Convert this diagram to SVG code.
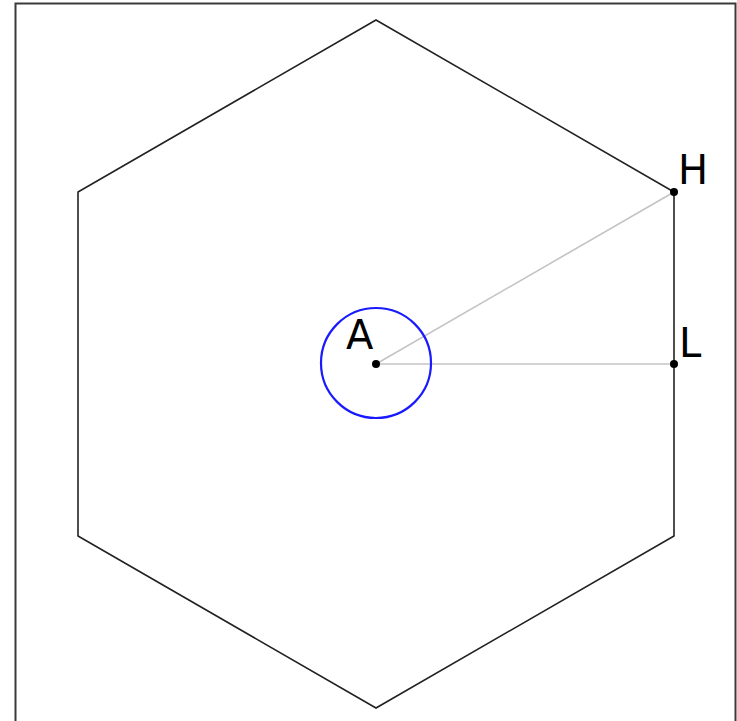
<svg xmlns="http://www.w3.org/2000/svg" width="737" height="721" viewBox="0 0 737 721">
<style>
.lbl{font-family:"DejaVu Sans",sans-serif;font-size:40px;fill:#000}
.pt{fill:#000}
.aux{stroke:#c4c4c4;stroke-width:1.6;fill:none}
</style>
<rect x="0" y="0" width="737" height="721" fill="#fff"/>
<rect x="15.5" y="3.5" width="720" height="740" fill="none" stroke="#3a3a3a" stroke-width="2"/>
<g id="hexagon">
<polygon points="376,20 674,192 674,536 376,708 78,536 78,192" fill="none" stroke="#222" stroke-width="1.6"/>
</g>
<g id="connectors">
<line class="aux" x1="376" y1="364" x2="674" y2="192"/>
<line class="aux" x1="376" y1="364" x2="674" y2="364"/>
</g>
<g id="circle">
<circle cx="376" cy="363" r="55" fill="none" stroke="#1a1aff" stroke-width="2.2"/>
</g>
<g id="A">
<circle class="pt" cx="376" cy="364" r="4"/>
<text class="lbl" x="346" y="349">A</text>
</g>
<g id="H">
<circle class="pt" cx="674" cy="192" r="4"/>
<text class="lbl" x="678" y="184">H</text>
</g>
<g id="L">
<circle class="pt" cx="674" cy="364" r="4"/>
<text class="lbl" x="679" y="357">L</text>
</g>
</svg>
